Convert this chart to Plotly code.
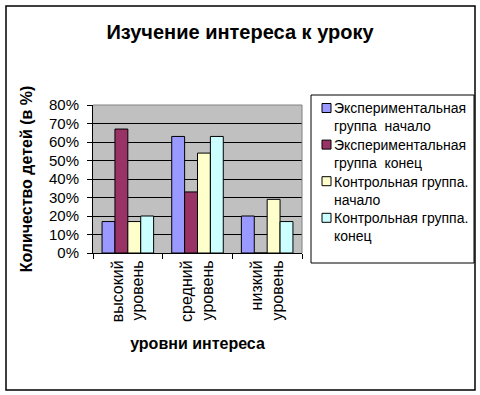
import plotly.graph_objects as go

categories = ["высокий<br>уровень", "средний<br>уровень", "низкий<br>уровень"]
series_names = [
    "Экспериментальная<br>группа  начало",
    "Экспериментальная<br>группа  конец",
    "Контрольная группа.<br>начало",
    "Контрольная группа.<br>конец",
]
exp_start = [0.17, 0.63, 0.20]
exp_end = [0.67, 0.33, 0.0]
ctrl_start = [0.17, 0.54, 0.29]
ctrl_end = [0.20, 0.63, 0.17]
colors = ["#9999FF", "#993366", "#FFFFCC", "#CCFFFF"]
y_ticks = [0, 0.1, 0.2, 0.3, 0.4, 0.5, 0.6, 0.7, 0.8]

FONT = "Liberation Sans, Arial, sans-serif"

fig = go.Figure()
for name, vals, col in zip(series_names, [exp_start, exp_end, ctrl_start, ctrl_end], colors):
    fig.add_trace(go.Bar(
        x=categories, y=vals, name=name, showlegend=False,
        marker=dict(color=col, line=dict(color="black", width=1)),
    ))

L, R, T, B = 93, 178, 105, 142
W = 480 - L - R
H = 395 - T - B

def px(x):
    return (x - L) / W

def py(y):
    return (395 - B - y) / H

shapes = [
    dict(type="line", xref="paper", yref="paper", x0=0, x1=1, y0=1, y1=1,
         line=dict(color="#808080", width=1), layer="above"),
    dict(type="line", xref="paper", yref="paper", x0=1, x1=1, y0=0, y1=1,
         line=dict(color="#808080", width=1), layer="above"),
    dict(type="rect", xref="paper", yref="paper",
         x0=px(6), x1=px(475), y0=py(390), y1=py(6),
         line=dict(color="black", width=1.5), fillcolor="rgba(0,0,0,0)", layer="above"),
    # legend box
    dict(type="rect", xref="paper", yref="paper",
         x0=px(311), x1=px(474), y0=py(263), y1=py(95),
         line=dict(color="black", width=1), fillcolor="white", layer="above"),
]
annotations = []
for i, (name, col) in enumerate(zip(series_names, colors)):
    line1 = 108 + 36.6 * i
    shapes.append(dict(
        type="rect", xref="paper", yref="paper",
        x0=px(322), x1=px(331), y0=py(line1 + 4.5), y1=py(line1 - 4.5),
        line=dict(color="black", width=1), fillcolor=col, layer="above",
    ))
    annotations.append(dict(
        text=name, xref="paper", yref="paper", x=px(332), y=py(line1 + 9.3),
        xanchor="left", yanchor="middle", align="left", showarrow=False,
        font=dict(size=14, family=FONT, color="black"),
    ))

fig.update_layout(
    width=480, height=395,
    margin=dict(l=L, r=R, t=T, b=B, pad=0),
    paper_bgcolor="white",
    plot_bgcolor="#C0C0C0",
    barmode="group",
    bargap=0.26,
    bargroupgap=0,
    showlegend=False,
    font=dict(family=FONT, color="black", size=15),
    title=dict(
        text="<b>Изучение интереса к уроку</b>",
        x=0.5, xref="container", xanchor="center",
        y=1 - 32 / 395, yref="container", yanchor="middle",
        font=dict(size=20, family=FONT, color="black"),
    ),
    xaxis=dict(
        tickangle=-90,
        showline=True, linecolor="black", linewidth=1,
        ticks="outside", ticklen=5, tickcolor="black",
        tickson="boundaries",
        tickfont=dict(size=16, family=FONT),
        automargin=False,
        title=dict(text="<b>уровни интереса</b>", font=dict(size=16, family=FONT), standoff=16),
    ),
    yaxis=dict(
        range=[0, 0.8],
        tickvals=y_ticks,
        tickformat=".0%",
        showgrid=True, gridcolor="black", gridwidth=1,
        showline=True, linecolor="black", linewidth=1,
        ticks="outside", ticklen=5, tickcolor="black",
        ticklabelstandoff=5,
        zeroline=False,
        automargin=False,
        tickfont=dict(size=15, family=FONT),
        title=dict(text="<b>Количество детей (в %)</b>", font=dict(size=16, family=FONT), standoff=12),
    ),
    shapes=shapes,
    annotations=annotations,
)

fig.write_html("out.html", config={"displayModeBar": False},
               post_script="document.body.style.margin='0';")
